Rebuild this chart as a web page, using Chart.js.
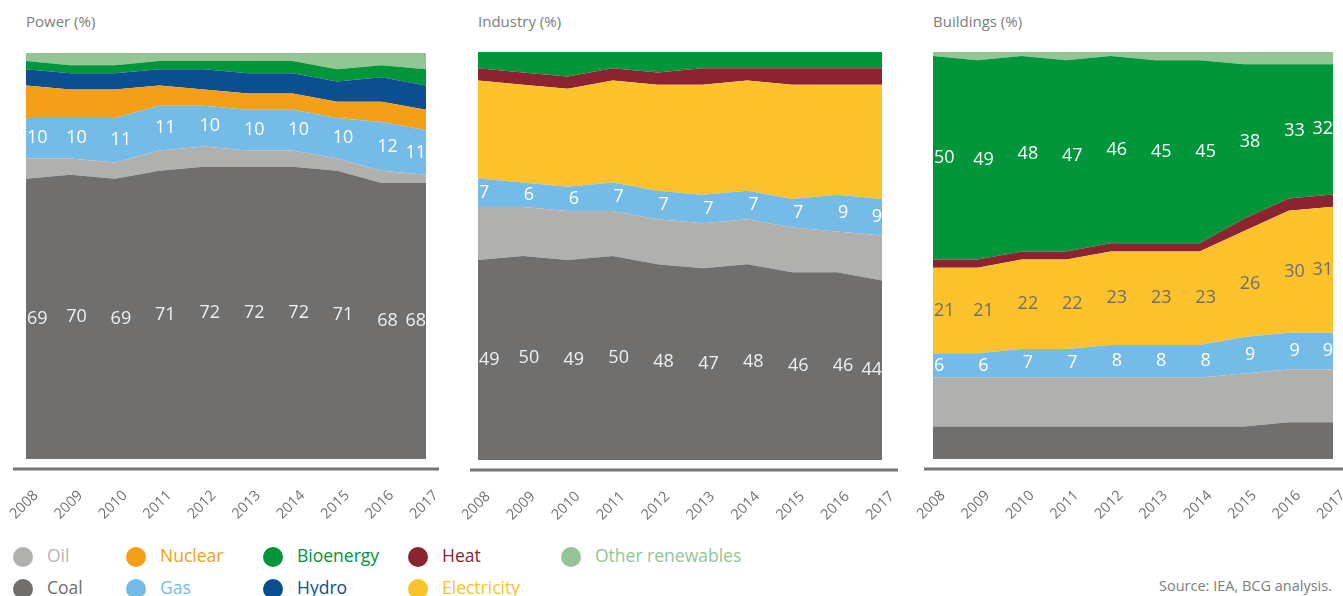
<!DOCTYPE html>
<html>
<head>
<meta charset="utf-8">
<script src="https://cdn.jsdelivr.net/npm/chart.js@4.4.0/dist/chart.umd.min.js"></script>
<style>
  body { margin: 0; width: 1343px; height: 596px; background: #fff; font-family: "Open Sans", sans-serif; position: relative; overflow: hidden; }
  .panel { position: absolute; top: 0; height: 530px; }
  .title { position: absolute; top: 11px; font-size: 15px; color: #7d7d7d; }
  .legend-item { position: absolute; font-size: 17.5px; line-height: 20px; white-space: nowrap; }
  .legend-item .dot { position: absolute; left: 0; top: 0; width: 20px; height: 20px; border-radius: 50%; }
  .legend-item span { position: absolute; left: 34px; top: -2px; }
  #source { position: absolute; right: 11px; top: 576px; font-size: 14.5px; color: #7d7d7d; }
</style>
</head>
<body>
<div class="title" style="left:26px">Power (%)</div>
<div class="title" style="left:478px">Industry (%)</div>
<div class="title" style="left:933px">Buildings (%)</div>

<div class="panel" style="left:0;width:452px"><canvas id="power"></canvas></div>
<div class="panel" style="left:452px;width:456px"><canvas id="industry"></canvas></div>
<div class="panel" style="left:907px;width:436px"><canvas id="buildings"></canvas></div>

<div id="legend"></div>
<div id="source">Source: IEA, BCG analysis.</div>

<script>
const years = ['2008', '2009', '2010', '2011', '2012', '2013', '2014', '2015', '2016', '2017'];

// Power (%)
const powerCoal    = [69, 70, 69, 71, 72, 72, 72, 71, 68, 68];
const powerOil     = [5, 4, 4, 5, 5, 4, 4, 3, 3, 2];
const powerGas     = [10, 10, 11, 11, 10, 10, 10, 10, 12, 11];
const powerNuclear = [8, 7, 7, 5, 4, 4, 4, 4, 5, 5];
const powerHydro   = [4, 4, 4, 4, 5, 5, 5, 5, 6, 6];
const powerBio     = [2, 2, 2, 2, 2, 3, 3, 3, 3, 4];
const powerOther   = [2, 3, 3, 2, 2, 2, 2, 4, 3, 4];

// Industry (%)
const industryCoal = [49, 50, 49, 50, 48, 47, 48, 46, 46, 44];
const industryOil  = [13, 12, 12, 11, 11, 11, 11, 11, 10, 11];
const industryGas  = [7, 6, 6, 7, 7, 7, 7, 7, 9, 9];
const industryElec = [24, 24, 24, 25, 26, 27, 27, 28, 27, 28];
const industryHeat = [3, 3, 3, 3, 3, 4, 3, 4, 4, 4];
const industryBio  = [4, 5, 6, 4, 5, 4, 4, 4, 4, 4];

// Buildings (%)
const buildingsCoal  = [8, 8, 8, 8, 8, 8, 8, 8, 9, 9];
const buildingsOil   = [12, 12, 12, 12, 12, 12, 12, 13, 13, 13];
const buildingsGas   = [6, 6, 7, 7, 8, 8, 8, 9, 9, 9];
const buildingsElec  = [21, 21, 22, 22, 23, 23, 23, 26, 30, 31];
const buildingsHeat  = [2, 2, 2, 2, 2, 2, 2, 3, 3, 3];
const buildingsBio   = [50, 49, 48, 47, 46, 45, 45, 38, 33, 32];
const buildingsOther = [1, 2, 1, 2, 1, 2, 2, 3, 3, 3];

const colors = {
  Oil: '#b0b0af',
  Coal: '#706f6d',
  Nuclear: '#f39f18',
  Gas: '#74bbe8',
  Bioenergy: '#009639',
  Hydro: '#0b4f91',
  Heat: '#8b2331',
  Electricity: '#fbc22c',
  'Other renewables': '#93c597'
};

// legend text is a touch lighter for oil
const legendText = { Oil: '#b5b5b5' };
const legendRows = [
  ['Oil', 'Nuclear', 'Bioenergy', 'Heat', 'Other renewables'],
  ['Coal', 'Gas', 'Hydro', 'Electricity']
];
const legendCols = [13, 126, 263, 408, 561];

// value labels written on some of the areas
const valueLabels = {
  id: 'valueLabels',
  afterDatasetsDraw(chart) {
    const { ctx, chartArea } = chart;
    const yScale = chart.scales.y;
    ctx.save();
    ctx.font = '18px "Open Sans"';
    ctx.textAlign = 'center';
    ctx.textBaseline = 'middle';
    chart.data.datasets.forEach((ds, di) => {
      if (!ds.labelColor) return;
      const meta = chart.getDatasetMeta(di);
      ds.data.forEach((v, i) => {
        let below = 0;
        for (let k = 0; k < di; k++) below += chart.data.datasets[k].data[i];
        const yMid = (yScale.getPixelForValue(below) + yScale.getPixelForValue(below + v)) / 2;
        const txt = String(v);
        const w = ctx.measureText(txt).width;
        let x = meta.data[i].x + 6;
        x = Math.max(chartArea.left + w / 2 + 1, Math.min(chartArea.right - w / 2, x));
        ctx.fillStyle = ds.labelColor;
        ctx.fillText(txt, x, yMid);
      });
    });
    ctx.restore();
  }
};

// the grey rule under each panel
const baseLine = {
  id: 'baseLine',
  afterDraw(chart, args, opts) {
    const { ctx, chartArea } = chart;
    ctx.save();
    ctx.strokeStyle = '#757575';
    ctx.lineWidth = 3;
    ctx.beginPath();
    ctx.moveTo(chartArea.left - opts.left, chartArea.bottom + 10);
    ctx.lineTo(chartArea.right + opts.right, chartArea.bottom + 10);
    ctx.stroke();
    ctx.restore();
  }
};

function makeSeries(name, data, labelColor) {
  return { name, data, labelColor };
}

function drawPanel(id, series, pad, line) {
  const datasets = series.map((s, i) => ({
    label: s.name,
    data: s.data,
    backgroundColor: colors[s.name],
    borderColor: colors[s.name],
    borderWidth: 0,
    pointRadius: 0,
    tension: 0,
    fill: i === 0 ? 'origin' : '-1',
    labelColor: s.labelColor
  }));

  new Chart(document.getElementById(id), {
    type: 'line',
    data: { labels: years, datasets },
    options: {
      responsive: true,
      maintainAspectRatio: false,
      animation: false,
      layout: { padding: { left: pad.left, right: pad.right, top: pad.top, bottom: 0 } },
      plugins: {
        legend: { display: false },
        tooltip: { enabled: false },
        baseLine: line
      },
      scales: {
        x: {
          grid: { display: false, drawTicks: false },
          border: { display: false },
          ticks: {
            autoSkip: false,
            maxRotation: 45,
            minRotation: 45,
            padding: 28,
            labelOffset: 10,
            color: '#727272',
            font: { family: 'Open Sans', size: 14.5 }
          },
          afterFit(scale) {
            scale.height = 530 - pad.bottomEdge;
            scale.paddingLeft = 0;
            scale.paddingRight = 0;
          }
        },
        y: {
          display: false,
          stacked: true,
          min: 0,
          max: 100
        }
      }
    },
    plugins: [valueLabels, baseLine]
  });
}

drawPanel('power', [
  makeSeries('Coal', powerCoal, '#f0f0f0'),
  makeSeries('Oil', powerOil),
  makeSeries('Gas', powerGas, '#ffffff'),
  makeSeries('Nuclear', powerNuclear),
  makeSeries('Hydro', powerHydro),
  makeSeries('Bioenergy', powerBio),
  makeSeries('Other renewables', powerOther)
], { left: 26, right: 26, top: 53, bottomEdge: 459 }, { left: 13, right: 13 });

drawPanel('industry', [
  makeSeries('Coal', industryCoal, '#f0f0f0'),
  makeSeries('Oil', industryOil),
  makeSeries('Gas', industryGas, '#ffffff'),
  makeSeries('Electricity', industryElec),
  makeSeries('Heat', industryHeat),
  makeSeries('Bioenergy', industryBio)
], { left: 26, right: 26, top: 52, bottomEdge: 460 }, { left: 8, right: 16 });

drawPanel('buildings', [
  makeSeries('Coal', buildingsCoal),
  makeSeries('Oil', buildingsOil),
  makeSeries('Gas', buildingsGas, '#ffffff'),
  makeSeries('Electricity', buildingsElec, '#6f6f6e'),
  makeSeries('Heat', buildingsHeat),
  makeSeries('Bioenergy', buildingsBio, '#ffffff'),
  makeSeries('Other renewables', buildingsOther)
], { left: 26, right: 10, top: 52, bottomEdge: 459 }, { left: 9, right: 10 });

// legend
const legend = document.getElementById('legend');
legendRows.forEach((row, r) => {
  row.forEach((name, c) => {
    const item = document.createElement('div');
    item.className = 'legend-item';
    item.style.left = legendCols[c] + 'px';
    item.style.top = (547 + r * 32) + 'px';
    item.innerHTML = '<div class="dot" style="background:' + colors[name] + '"></div>' +
      '<span style="color:' + (legendText[name] || colors[name]) + '">' + name + '</span>';
    legend.appendChild(item);
  });
});
</script>
</body>
</html>
